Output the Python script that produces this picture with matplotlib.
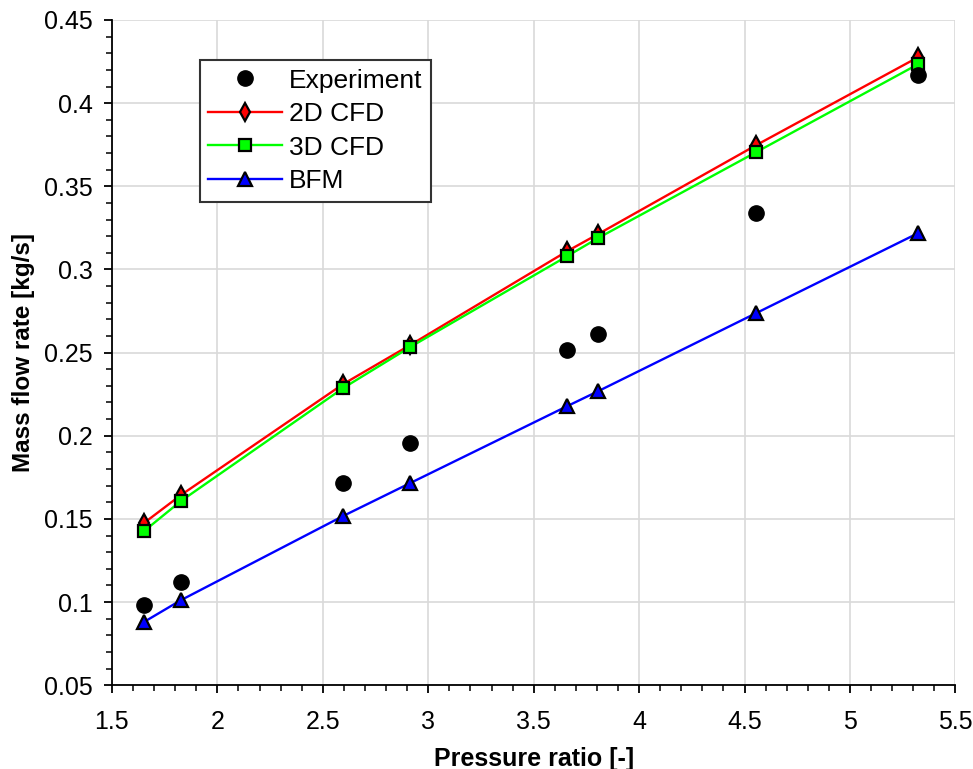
import matplotlib
matplotlib.use("Agg")
import matplotlib.pyplot as plt
from matplotlib.ticker import MultipleLocator, FuncFormatter

plt.rcParams['font.family'] = ['Liberation Sans', 'DejaVu Sans']

pressure_ratio = [1.652, 1.827, 2.596, 2.914, 3.659, 3.806, 4.556, 5.324]
experiment = [0.098, 0.112, 0.1715, 0.1956, 0.2515, 0.2611, 0.334, 0.417]
cfd_2d = [0.1475, 0.1643, 0.231, 0.2545, 0.311, 0.3213, 0.3748, 0.4277]
cfd_3d = [0.1426, 0.1607, 0.2286, 0.2533, 0.308, 0.3189, 0.3706, 0.4235]
bfm = [0.088, 0.1011, 0.1517, 0.1715, 0.2178, 0.2268, 0.2738, 0.3219]

fig = plt.figure(figsize=(9.73, 7.69), dpi=100)
ax = fig.add_axes([0.115, 0.109, 0.867, 0.865])

ax.plot(pressure_ratio, experiment, 'o', color='black', markersize=11, label='Experiment', zorder=5)
ax.plot(pressure_ratio, cfd_2d, '-', color='#ff0000', lw=1.7, marker='d', markersize=9,
        markerfacecolor='#ff0000', markeredgecolor='black', markeredgewidth=1.6, label='2D CFD', zorder=3)
ax.plot(pressure_ratio, cfd_3d, '-', color='#00ff00', lw=1.7, marker='s', markersize=8,
        markerfacecolor='#00ff00', markeredgecolor='black', markeredgewidth=1.6, label='3D CFD', zorder=4)
ax.plot(pressure_ratio, bfm, '-', color='#0000ff', lw=1.7, marker='^', markersize=10.5,
        markerfacecolor='#0000ff', markeredgecolor='black', markeredgewidth=1.6, label='BFM', zorder=4)

ax.set_xlim(1.5, 5.5)
ax.set_ylim(0.05, 0.45)
ax.xaxis.set_major_locator(MultipleLocator(0.5))
ax.yaxis.set_major_locator(MultipleLocator(0.05))
ax.yaxis.set_minor_locator(MultipleLocator(0.01))
ax.xaxis.set_minor_locator(MultipleLocator(0.1))
ax.xaxis.set_major_formatter(FuncFormatter(lambda v, p: f"{v:g}"))
ax.yaxis.set_major_formatter(FuncFormatter(lambda v, p: f"{v:g}"))

ax.grid(True, which='major', color='#d9d9d9', lw=1.2)
ax.set_axisbelow(True)
for s in ['top', 'right']:
    ax.spines[s].set_visible(False)
ax.spines['left'].set_linewidth(1.3)
ax.spines['bottom'].set_linewidth(1.3)
ax.tick_params(axis='both', which='major', labelsize=18, length=6, width=1.3, direction='out')
ax.tick_params(axis='both', which='minor', length=4, width=1.1, direction='out')
ax.tick_params(axis='x', which='major', pad=12)
ax.tick_params(axis='y', which='major', pad=8)

ax.set_xlabel('Pressure ratio [-]', fontsize=18, fontweight='bold', labelpad=9)
ax.set_ylabel('Mass flow rate [kg/s]', fontsize=17.5, fontweight='bold', labelpad=6)

leg = ax.legend(loc='upper left', bbox_to_anchor=(0.104, 0.94), fontsize=19, fancybox=False,
                edgecolor='#333333', framealpha=1, handlelength=2.8, borderpad=0.33,
                labelspacing=0.36, handletextpad=0.25, borderaxespad=0)
leg.get_frame().set_linewidth(1.5)

fig.savefig('out.png', dpi=100)
